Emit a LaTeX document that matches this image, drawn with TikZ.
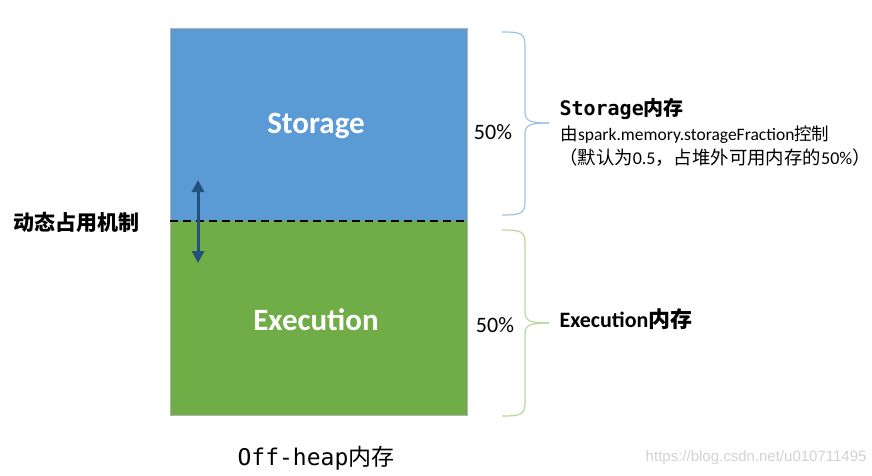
\documentclass[tikz,border=0pt]{standalone}
\usepackage{fontspec}
\setmainfont{Carlito}
\newfontfamily\cjk{Noto Sans CJK SC}
\newfontfamily\monof{DejaVu Sans Mono}
\newfontfamily\wmf{Liberation Sans}
\usetikzlibrary{arrows.meta}
\definecolor{stblue}{HTML}{5B9BD5}
\definecolor{exgreen}{HTML}{70AD47}
\definecolor{arrblue}{HTML}{24507E}
\definecolor{brblue}{HTML}{9DC3E6}
\definecolor{brgreen}{HTML}{B4D89A}
\begin{document}
\begin{tikzpicture}[x=1pt,y=-1pt,
  bigtxt/.style={text=white,font=\fontsize{31}{33}\selectfont\bfseries},
  pct/.style={font=\fontsize{22}{24}\selectfont},
  bracel/.style={line width=1.2pt}]
\useasboundingbox (0,0) rectangle (872,476);
\fill[stblue] (170,28) rectangle (467,221);
\fill[exgreen] (170,221) rectangle (467,415);
\draw[gray!60,line width=0.8pt] (170,28) rectangle (467,415);
\draw[black,line width=2pt,dash pattern=on 8pt off 5pt] (170,221) -- (467,221);
\node[bigtxt] (st) at (316,126) {Storage};
\node[bigtxt] (ex) at (316,320) {Execution};
\coordinate (atop) at (198,180);
\coordinate (abot) at (198,263);
\draw[arrblue,line width=3pt,{Triangle[width=12pt,length=12pt]}-{Triangle[width=12pt,length=12pt]}] (atop) -- (abot);
\node[anchor=west,font=\fontsize{21}{23}\selectfont\cjk\bfseries] (dyn) at (10,222) {动态占用机制};
\draw[bracel,brblue] (502,32) .. controls (520,32) and (525,33) .. (525,45) -- (525,112) .. controls (525,121) and (530,123) .. (549,123);
\draw[bracel,brblue] (502,215) .. controls (520,215) and (525,214) .. (525,202) -- (525,134) .. controls (525,125) and (530,123) .. (549,123);
\draw[bracel,brgreen] (502,230) .. controls (520,230) and (525,231) .. (525,243) -- (525,312) .. controls (525,321) and (530,323) .. (549,323);
\draw[bracel,brgreen] (502,416) .. controls (520,416) and (525,415) .. (525,403) -- (525,334) .. controls (525,325) and (530,323) .. (549,323);
\node[pct] (p1) at (493,132) {50\%};
\node[pct] (p2) at (495,325) {50\%};
\node[anchor=base west,font=\fontsize{20}{22}\selectfont\bfseries] (sl1) at (556,116) {{\monof Storage}{\cjk 内存}};
\node[anchor=base west,font=\fontsize{17.5}{19}\selectfont] (sl2) at (557,140) {{\cjk 由}spark.memory.storageFraction{\cjk 控制}};
\node[anchor=base west,inner sep=0pt,font=\fontsize{18}{19}\selectfont] (sl3) at (559,164) {{\fontsize{18.4}{19}\selectfont\cjk （默认为}0.5{\fontsize{18.4}{19}\selectfont\cjk ，占堆外可用内存的}50\%{\fontsize{18.4}{19}\selectfont\cjk ）}};
\node[anchor=base west,font=\fontsize{22}{24}\selectfont\bfseries] (el) at (556,327) {Execution{\cjk 内存}};
\node[font=\fontsize{23}{25}\selectfont] (oh) at (316,458) {{\monof Off-heap}{\cjk 内存}};
\node[anchor=east,font=\fontsize{15}{17}\selectfont\wmf,text=gray!35] (wm) at (870,458) {https://blog.csdn.net/u010711495};
\end{tikzpicture}
\end{document}
